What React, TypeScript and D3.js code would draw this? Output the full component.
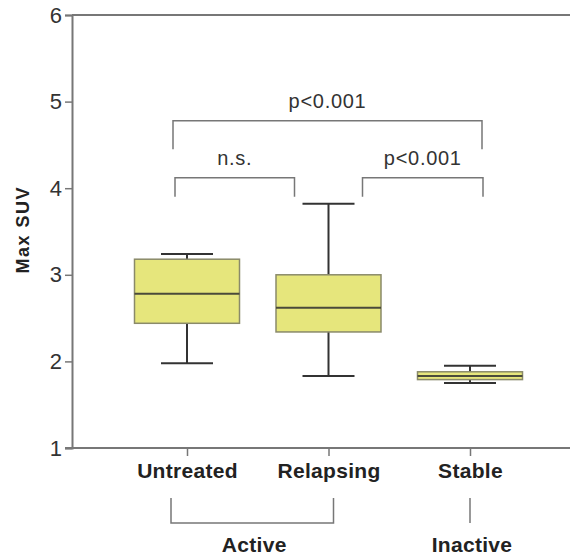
import React, { useRef, useEffect } from "react";
import * as d3 from "d3";

// values (Max SUV)
const categories = ["Untreated", "Relapsing", "Stable"];
const whiskerLow = [1.98, 1.83, 1.75];
const quartile1 = [2.44, 2.34, 1.79];
const medians = [2.78, 2.62, 1.83];
const quartile3 = [3.18, 3.0, 1.88];
const whiskerHigh = [3.24, 3.82, 1.95];
const yTicks = [1, 2, 3, 4, 5, 6];

const comparisonFrom = ["Untreated", "Untreated", "Relapsing"];
const comparisonTo = ["Stable", "Relapsing", "Stable"];
const comparisonLabels = ["p<0.001", "n.s.", "p<0.001"];
const comparisonLevel = [4.78, 4.12, 4.12];
const comparisonFoot = [4.45, 3.9, 3.9];

const groupLabels = ["Active", "Inactive"];
const groupMembers = [["Untreated", "Relapsing"], ["Stable"]];

const W = 570;
const H = 556;
const FONT = "'Liberation Sans', Arial, Helvetica, sans-serif";

function BoxChart() {
  const svgRef = useRef<SVGSVGElement>(null);

  useEffect(() => {
    document.body.style.margin = "0";
    const svg = d3.select(svgRef.current);
    svg.selectAll("*").remove();

    const axisX = 72;
    const y = d3.scaleLinear().domain([1, 6]).range([448, 15]);
    const x = d3.scalePoint<string>().domain(categories).range([187, 470]);
    const boxW = 105;
    const capW = 52;

    // y axis
    const yAxis = d3.axisLeft(y).tickValues(yTicks).tickSize(7).tickPadding(3).tickFormat(d3.format("d"));
    const gy = svg.append("g").attr("transform", `translate(${axisX},0)`).call(yAxis);
    gy.select(".domain").attr("stroke", "#777").attr("stroke-width", 2);
    gy.selectAll(".tick line").attr("stroke", "#777").attr("stroke-width", 1.5);
    gy.selectAll(".tick text")
      .attr("fill", "#333")
      .attr("font-family", FONT)
      .attr("font-size", 22);

    // top frame line and bottom axis line
    svg.append("line").attr("x1", axisX).attr("x2", W).attr("y1", y(6)).attr("y2", y(6))
      .attr("stroke", "#777").attr("stroke-width", 2);

    const xAxis = d3.axisBottom(x).tickSize(8).tickPadding(7).tickSizeOuter(0);
    const gx = svg.append("g").attr("transform", `translate(0,${y(1)})`).call(xAxis);
    gx.select(".domain").remove();
    svg.append("line").attr("x1", axisX - 7).attr("x2", W).attr("y1", y(1)).attr("y2", y(1))
      .attr("stroke", "#777").attr("stroke-width", 2);
    gx.selectAll(".tick line").attr("stroke", "#777").attr("stroke-width", 1.5);
    gx.selectAll(".tick text")
      .attr("fill", "#222")
      .attr("font-family", FONT)
      .attr("font-weight", "bold")
      .attr("font-size", 21)
      .attr("letter-spacing", 0.3);

    // y title
    svg.append("text")
      .attr("transform", `translate(29,${y(3.52)}) rotate(-90)`)
      .attr("text-anchor", "middle")
      .attr("font-family", FONT)
      .attr("font-weight", "bold")
      .attr("font-size", 18)
      .attr("letter-spacing", 1.5)
      .attr("fill", "#222")
      .text("Max SUV");

    // boxes
    const boxes = svg.append("g");
    categories.forEach((c, i) => {
      const cx = x(c)!;
      boxes.append("line").attr("x1", cx).attr("x2", cx).attr("y1", y(whiskerHigh[i])).attr("y2", y(whiskerLow[i]))
        .attr("stroke", "#333").attr("stroke-width", 2);
      [whiskerHigh[i], whiskerLow[i]].forEach((v) => {
        boxes.append("line").attr("x1", cx - capW / 2).attr("x2", cx + capW / 2).attr("y1", y(v)).attr("y2", y(v))
          .attr("stroke", "#333").attr("stroke-width", 2);
      });
      boxes.append("rect")
        .attr("x", cx - boxW / 2)
        .attr("y", y(quartile3[i]))
        .attr("width", boxW)
        .attr("height", y(quartile1[i]) - y(quartile3[i]))
        .attr("fill", "#e6e67c")
        .attr("stroke", "#8a8a6a")
        .attr("stroke-width", 1.5);
      boxes.append("line").attr("x1", cx - boxW / 2).attr("x2", cx + boxW / 2)
        .attr("y1", y(medians[i])).attr("y2", y(medians[i]))
        .attr("stroke", "#4a4a3a").attr("stroke-width", 2);
    });

    // significance brackets
    const bracketDx = [[-14, 12], [-12, -34], [34, 13]];
    const sig = svg.append("g");
    comparisonLabels.forEach((lab, i) => {
      const x1 = x(comparisonFrom[i])! + bracketDx[i][0];
      const x2 = x(comparisonTo[i])! + bracketDx[i][1];
      const yl = y(comparisonLevel[i]);
      const yf = y(comparisonFoot[i]);
      sig.append("path")
        .attr("d", d3.line()([[x1, yf], [x1, yl], [x2, yl], [x2, yf]]))
        .attr("fill", "none").attr("stroke", "#777").attr("stroke-width", 1.5);
      sig.append("text")
        .attr("x", (x1 + x2) / 2)
        .attr("y", yl - 13)
        .attr("text-anchor", "middle")
        .attr("font-family", FONT)
        .attr("font-size", 20)
        .attr("letter-spacing", 0.7)
        .attr("fill", "#333")
        .text(lab);
    });

    // group brackets below the axis
    const groupDx = [[-16, 5], [0, 0]];
    const grp = svg.append("g");
    groupLabels.forEach((lab, i) => {
      const m = groupMembers[i];
      const x1 = x(m[0])! + groupDx[i][0];
      const x2 = x(m[m.length - 1])! + groupDx[i][1];
      const top = 498;
      const bottom = 523;
      if (m.length > 1) {
        grp.append("path")
          .attr("d", d3.line()([[x1, top], [x1, bottom], [x2, bottom], [x2, top]]))
          .attr("fill", "none").attr("stroke", "#777").attr("stroke-width", 1.5);
      } else {
        grp.append("line").attr("x1", x1).attr("x2", x1).attr("y1", top).attr("y2", bottom)
          .attr("stroke", "#777").attr("stroke-width", 1.5);
      }
      grp.append("text")
        .attr("x", (x1 + x2) / 2 + 2)
        .attr("y", 552)
        .attr("text-anchor", "middle")
        .attr("font-family", FONT)
        .attr("font-weight", "bold")
        .attr("font-size", 21)
        .attr("letter-spacing", 0.3)
        .attr("fill", "#222")
        .text(lab);
    });
  }, []);

  return <svg ref={svgRef} width={W} height={H} style={{ display: "block", background: "#fff" }} />;
}

export default function App() {
  return <BoxChart />;
}
